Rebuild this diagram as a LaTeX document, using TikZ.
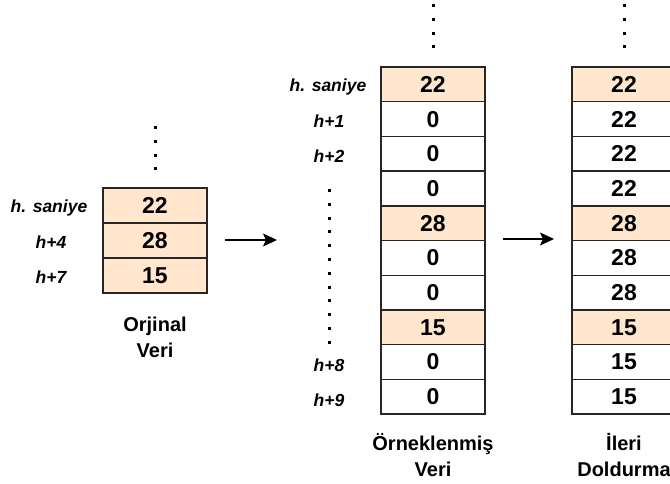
\documentclass[tikz,border=0pt]{standalone}
\usepackage{xcolor}
\usepackage{fontspec}
\setmainfont{Liberation Sans}
\usepackage{tikz}
\usetikzlibrary{arrows.meta}

\definecolor{peach}{HTML}{FFE6CC}

\tikzset{
    cell/.style={draw=black!85, line width=1.4pt, fill=white, minimum width=104pt,
                 minimum height=34.7pt, inner sep=0pt, font=\fontsize{23}{23}\selectfont\bfseries},
    kept/.style={cell, fill=peach},
    tlabel/.style={inner sep=0pt, font=\fontsize{17.5}{17.5}\selectfont\bfseries\itshape},
    caption/.style={inner sep=0pt, align=center, font=\fontsize{20}{26}\selectfont\bfseries},
    vdots/.style={line width=3pt, dash pattern=on 3pt off 10.8pt},
    step arrow/.style={line width=1.6pt, -{Stealth[length=14pt,width=13pt,inset=3pt]}}
}

\begin{document}
\begin{tikzpicture}[x=1pt,y=-1pt]
        \clip (0,0) rectangle (670,484);
        \useasboundingbox (0,0) rectangle (670,484);

        % original data
        \node[kept] (o1) at (155,205.5) {22};
        \node[kept] (o2) at (155,240.5) {28};
        \node[kept] (o3) at (155,275.5) {15};
        \node[tlabel] (lo1) at (49,208) {h. saniye};
        \node[tlabel] (lo2) at (51,242) {h+4};
        \node[tlabel] (lo3) at (51,277) {h+7};
        \node[caption] (co) at (155,337) {Orjinal\\Veri};
        \coordinate (do1) at (155,126);
        \coordinate (do2) at (155,170);
        \draw[vdots] (do1) -- (do2);

        % sampled data
        \node[kept] (s1)  at (433,84.4)  {22};
        \node[cell] (s2)  at (433,119.1) {0};
        \node[cell] (s3)  at (433,153.8) {0};
        \node[cell] (s4)  at (433,188.5) {0};
        \node[kept] (s5)  at (433,223.2) {28};
        \node[cell] (s6)  at (433,257.9) {0};
        \node[cell] (s7)  at (433,292.6) {0};
        \node[kept] (s8)  at (433,327.3) {15};
        \node[cell] (s9)  at (433,362.0) {0};
        \node[cell] (s10) at (433,396.7) {0};
        \node[tlabel] (ls1)  at (328,87)  {h. saniye};
        \node[tlabel] (ls2)  at (329,121) {h+1};
        \node[tlabel] (ls3)  at (329,156) {h+2};
        \node[tlabel] (ls9)  at (329,365) {h+8};
        \node[tlabel] (ls10) at (329,400) {h+9};
        \node[caption] (cs) at (433,455) {Örneklenmiş\\Veri};
        \coordinate (ds1) at (433,4);
        \coordinate (ds2) at (433,48);
        \draw[vdots] (ds1) -- (ds2);
        \coordinate (dl1) at (329,189);
        \coordinate (dl2) at (329,344);
        \draw[vdots] (dl1) -- (dl2);

        % forward filled data
        \node[kept] (f1)  at (624,84.4)  {22};
        \node[cell] (f2)  at (624,119.1) {22};
        \node[cell] (f3)  at (624,153.8) {22};
        \node[cell] (f4)  at (624,188.5) {22};
        \node[kept] (f5)  at (624,223.2) {28};
        \node[cell] (f6)  at (624,257.9) {28};
        \node[cell] (f7)  at (624,292.6) {28};
        \node[kept] (f8)  at (624,327.3) {15};
        \node[cell] (f9)  at (624,362.0) {15};
        \node[cell] (f10) at (624,396.7) {15};
        \node[caption] (cf) at (624,455) {İleri\\Doldurma};
        \coordinate (df1) at (624,4);
        \coordinate (df2) at (624,48);
        \draw[vdots] (df1) -- (df2);

        % steps
        \coordinate (a1s) at (225,240);
        \coordinate (a1e) at (277,240);
        \coordinate (a2s) at (503,239);
        \coordinate (a2e) at (554,239);
        \draw[step arrow] (a1s) -- (a1e);
        \draw[step arrow] (a2s) -- (a2e);

        \end{tikzpicture}
\end{document}
